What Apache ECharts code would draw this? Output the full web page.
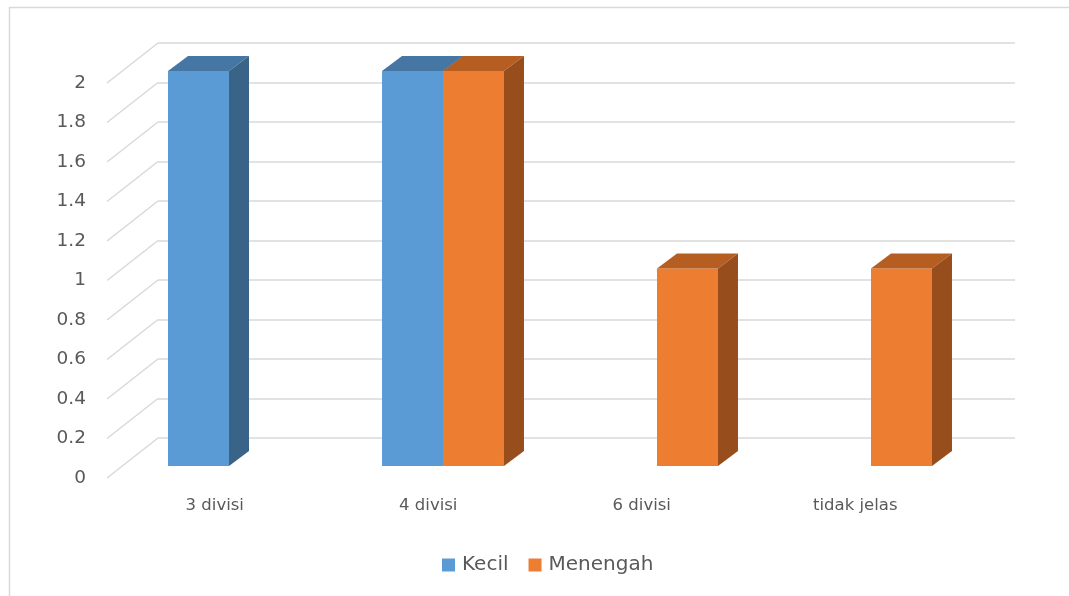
<!DOCTYPE html>
<html>
<head>
<meta charset="utf-8">
<title>Jumlah divisi</title>
<script src="https://cdn.jsdelivr.net/npm/echarts@6/dist/echarts.min.js"></script>
<style>
  html, body { margin: 0; padding: 0; background: #ffffff; }
  #chart { width: 1069px; height: 596px; }
</style>
</head>
<body>
<div id="chart"></div>
<script>
// Categories and series values
const categories = ['3 divisi', '4 divisi', '6 divisi', 'tidak jelas'];
const kecil = [2, 2, 0, 0];
const menengah = [0, 2, 1, 1];
// Value ticks of the wall gridlines
const yTicks = [0, 0.2, 0.4, 0.6, 0.8, 1, 1.2, 1.4, 1.6, 1.8, 2];

const FONT = 'DejaVu Sans';
const TEXT = '#595959';
const GRID_LINE = '#d9d9d9';

// Depth of the 3D columns and of the side wall (pixels)
const BAR_DX = 20, BAR_DY = -15;
const WALL_DX = -51, WALL_DY = 40;

// Renders one column as front face + top face + side face
function columnRenderer(slot, front, topC, sideC) {
  return function (params, api) {
    const cat = api.value(0);
    const v = api.value(1);
    if (!v) return { type: 'group', children: [] };
    const base = api.coord([cat, 0]);
    const top = api.coord([cat, v]);
    const band = api.size([1, 0])[0];
    const bw = band * 0.285;
    const x0 = base[0] + (slot === 0 ? -bw : 0);
    const x1 = x0 + bw;
    const yb = base[1], yt = top[1];
    return {
      type: 'group',
      children: [
        { type: 'rect', shape: { x: x0, y: yt, width: bw, height: yb - yt }, style: { fill: front } },
        { type: 'polygon', shape: { points: [[x0, yt], [x0 + BAR_DX, yt + BAR_DY], [x1 + BAR_DX, yt + BAR_DY], [x1, yt]] }, style: { fill: topC } },
        { type: 'polygon', shape: { points: [[x1, yt], [x1 + BAR_DX, yt + BAR_DY], [x1 + BAR_DX, yb + BAR_DY], [x1, yb]] }, style: { fill: sideC } }
      ]
    };
  };
}

const chart = echarts.init(document.getElementById('chart'), null, { renderer: 'canvas' });

chart.setOption({
  animation: false,
  backgroundColor: '#ffffff',
  textStyle: { fontFamily: FONT, color: TEXT },
  graphic: [{
    type: 'rect',
    shape: { x: 9.5, y: 7.5, width: 1200, height: 800 },
    style: { fill: 'none', stroke: GRID_LINE, lineWidth: 1.5 },
    silent: true,
    z: -10
  }],
  legend: {
    data: ['Kecil', 'Menengah'],
    left: 437,
    top: 550,
    icon: 'rect',
    itemWidth: 13,
    itemHeight: 13,
    itemGap: 20,
    textStyle: { fontFamily: FONT, fontSize: 20, color: TEXT, padding: [0, 0, 0, 2] },
    selectedMode: false
  },
  grid: [
    // front edge of the floor: value labels and category labels
    { left: 108, top: 83, width: 854, height: 395 },
    // back wall
    { left: 158, top: 43, width: 857, height: 395 },
    // front face plane of the columns
    { left: 122, top: 71, width: 856, height: 395 }
  ],
  xAxis: [
    {
      gridIndex: 0, type: 'category', data: categories,
      axisLine: { show: false }, axisTick: { show: false },
      axisLabel: { fontFamily: FONT, fontSize: 16.5, color: TEXT, margin: 19 }
    },
    { gridIndex: 1, type: 'value', min: 0, max: 1, show: false },
    { gridIndex: 2, type: 'category', data: categories, show: false }
  ],
  yAxis: [
    {
      gridIndex: 0, type: 'value', min: 0, max: 2, interval: 0.2,
      axisLine: { show: false }, axisTick: { show: false }, splitLine: { show: false },
      axisLabel: { fontFamily: FONT, fontSize: 18.5, color: TEXT, margin: 22 }
    },
    {
      gridIndex: 1, type: 'value', min: 0, max: 2, interval: 0.2,
      axisLine: { show: false }, axisTick: { show: false }, axisLabel: { show: false },
      splitLine: { show: true, lineStyle: { color: GRID_LINE, width: 1.5 } }
    },
    { gridIndex: 2, type: 'value', min: 0, max: 2, show: false }
  ],
  series: [
    {
      // side wall gridlines running from the back wall to the front edge
      type: 'custom', name: 'wall',
      xAxisIndex: 1, yAxisIndex: 1,
      silent: true,
      data: yTicks.map(v => [0, v]),
      renderItem: function (params, api) {
        const p = api.coord([api.value(0), api.value(1)]);
        return {
          type: 'line',
          shape: { x1: p[0], y1: p[1], x2: p[0] + WALL_DX, y2: p[1] + WALL_DY },
          style: { stroke: GRID_LINE, lineWidth: 1.5 }
        };
      },
      z: 1
    },
    {
      type: 'custom', name: 'Kecil',
      xAxisIndex: 2, yAxisIndex: 2,
      itemStyle: { color: '#5B9BD5' },
      data: kecil.map((v, i) => [i, v]),
      encode: { x: 0, y: 1 },
      renderItem: columnRenderer(0, '#5B9BD5', '#4676A4', '#3A6388'),
      z: 3
    },
    {
      type: 'custom', name: 'Menengah',
      xAxisIndex: 2, yAxisIndex: 2,
      itemStyle: { color: '#ED7D31' },
      data: menengah.map((v, i) => [i, v]),
      encode: { x: 0, y: 1 },
      renderItem: columnRenderer(1, '#ED7D31', '#B65D21', '#984E1C'),
      z: 4
    }
  ]
});
</script>
</body>
</html>
